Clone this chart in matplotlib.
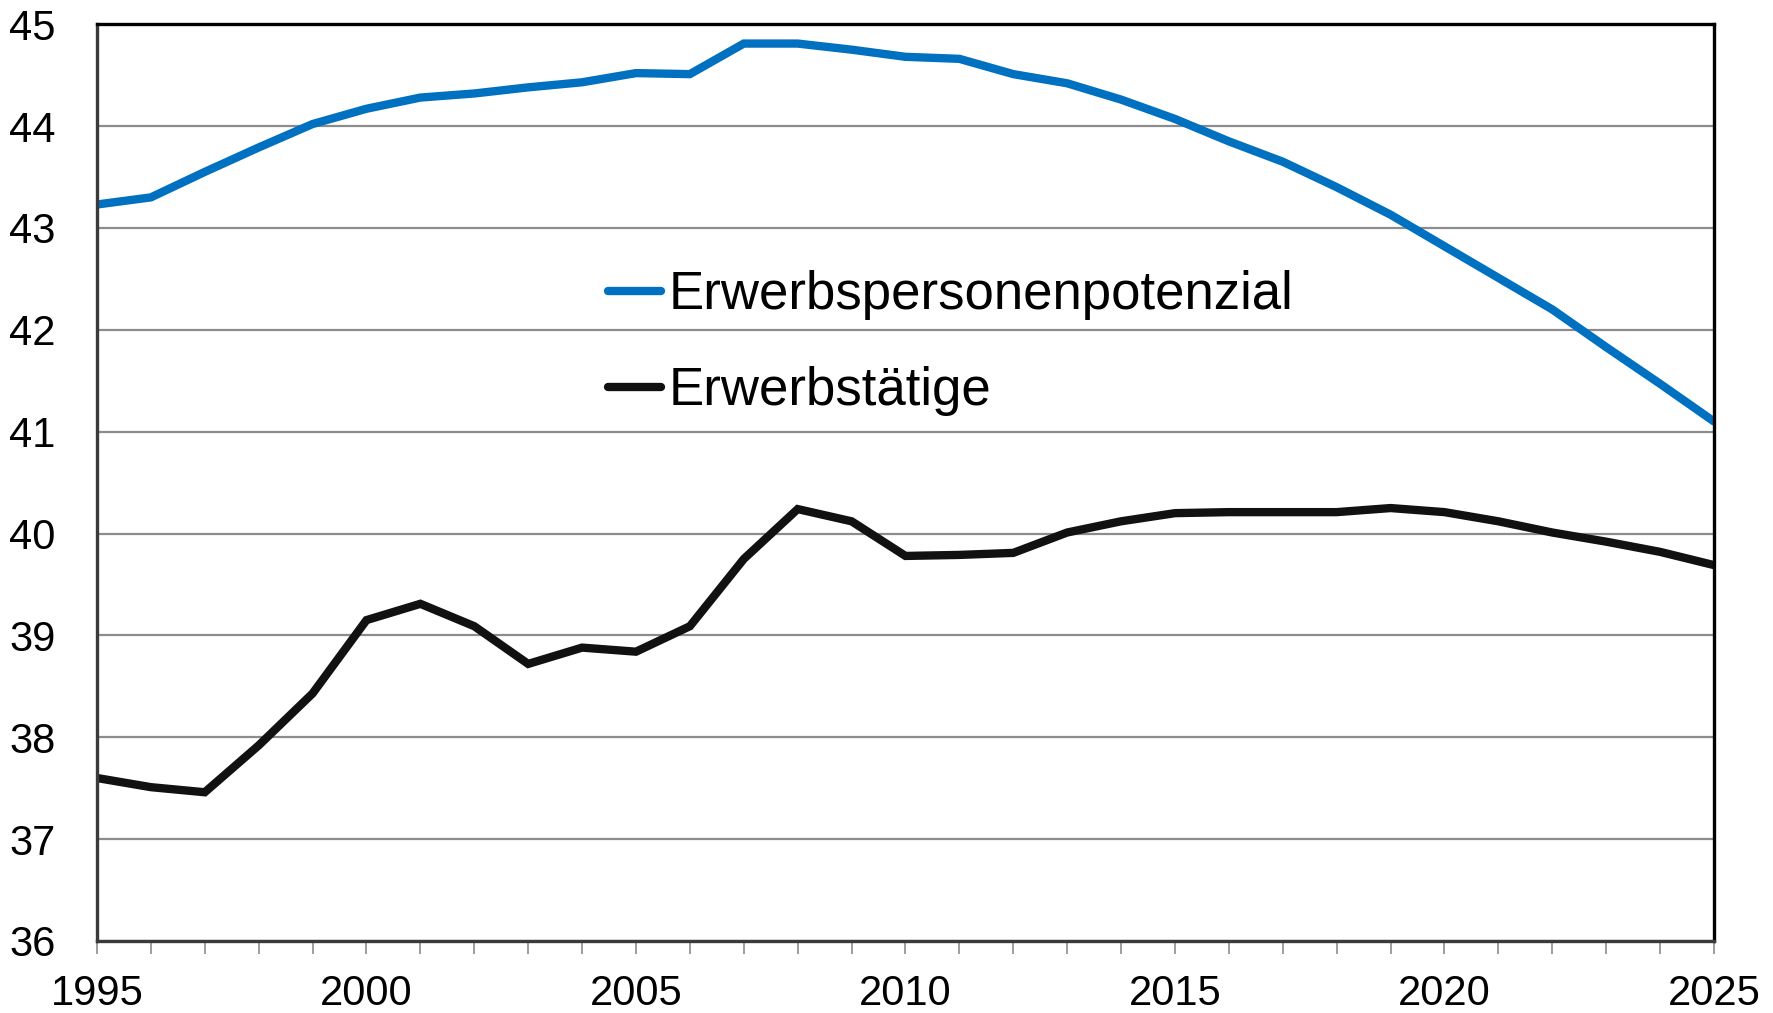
import numpy as np
import matplotlib
matplotlib.use('Agg')
from matplotlib import pyplot as plt

years = list(range(1995, 2026))

potenzial = [43.23, 43.30, 43.55, 43.79, 44.02, 44.17, 44.28, 44.32, 44.38, 44.43,
             44.52, 44.51, 44.81, 44.81, 44.75, 44.68, 44.66, 44.51, 44.42, 44.26,
             44.07, 43.85, 43.65, 43.40, 43.13, 42.82, 42.51, 42.20, 41.83, 41.47,
             41.10]

erwerbstaetige = [37.60, 37.51, 37.46, 37.92, 38.43, 39.15, 39.31, 39.09, 38.72, 38.88,
                  38.84, 39.09, 39.75, 40.24, 40.12, 39.78, 39.79, 39.81, 40.01, 40.12,
                  40.20, 40.21, 40.21, 40.21, 40.25, 40.21, 40.12, 40.01, 39.92, 39.82,
                  39.69]

labels = ['Erwerbspersonenpotenzial', 'Erwerbstätige']
colors = ['#0070C0', '#111111']

plt.rcParams['font.family'] = ['Liberation Sans', 'DejaVu Sans']

fig = plt.figure(figsize=(17.73, 10.13), dpi=100)
ax = fig.add_axes([0.0547, 0.0711, 0.912, 0.905])

ax.plot(years, potenzial, color=colors[0], lw=6, label=labels[0],
        solid_joinstyle='miter', solid_capstyle='round')
ax.plot(years, erwerbstaetige, color=colors[1], lw=6, label=labels[1],
        solid_joinstyle='miter', solid_capstyle='round')

ax.set_xlim(1995, 2025)
ax.set_ylim(36, 45)
ax.set_yticks(range(36, 46))
ax.set_xticks(range(1995, 2026, 5))
ax.set_xticks(range(1995, 2026), minor=True)

ax.grid(axis='y', color='#8c8c8c', lw=1.6)
ax.set_axisbelow(True)

ax.tick_params(axis='y', length=0, pad=30, labelsize=30)
ax.tick_params(axis='x', which='major', length=9.5, width=1.2, color='#8c8c8c', pad=14, labelsize=30)
ax.tick_params(axis='x', which='minor', length=9.5, width=1.2, color='#8c8c8c')

for s in ['top', 'right']:
    ax.spines[s].set_color('black')
    ax.spines[s].set_linewidth(2.4)
for s in ['left', 'bottom']:
    ax.spines[s].set_color('#3a3a3a')
    ax.spines[s].set_linewidth(2.4)

# legend sits inside the plot, two rows
leg = ax.legend(loc='center left', bbox_to_anchor=(0.316, 0.652), frameon=False,
                fontsize=38, handlelength=1.0, handletextpad=0.15, labelspacing=0.88,
                borderpad=0, borderaxespad=0)

fig.savefig('out.png', dpi=100)
